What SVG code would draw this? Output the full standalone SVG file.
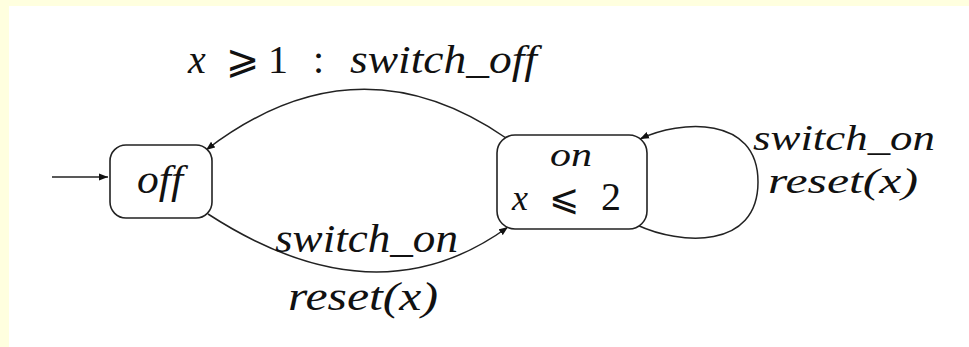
<svg xmlns="http://www.w3.org/2000/svg" width="969" height="347" viewBox="0 0 969 347">
<style>
.node rect{fill:#fff;stroke:#222;stroke-width:1.6}
.it{font-family:'Liberation Serif','Times New Roman','DejaVu Serif','Noto Serif',serif;font-style:italic;font-size:40px;fill:#111}
.rm{font-family:'Liberation Serif','Times New Roman','DejaVu Serif','Noto Serif',serif;font-style:normal;font-size:40px;fill:#111}
.sym{font-family:'DejaVu Sans','DejaVu Serif',sans-serif;font-style:normal;font-size:40px;fill:#111}
.sm{font-size:36px}
.xs{font-size:34px}
.edge{fill:none;stroke:#222;stroke-width:1.5}
</style>
<defs>
<marker id="ah" markerWidth="10" markerHeight="8" refX="9" refY="4" orient="auto" markerUnits="userSpaceOnUse">
<path d="M0,0.5 L9,4 L0,7.5 Z" fill="#111"/>
</marker>
</defs>
<rect x="0" y="0" width="969" height="347" fill="#FFFFDF"/>
<rect x="9" y="6" width="960" height="341" fill="#fff"/>
<g id="connectors">
<path class="edge" d="M52,177 L108,177" marker-end="url(#ah)"/>
<path class="edge" d="M506,138 Q356,35 206,150" marker-end="url(#ah)"/>
<path class="edge" d="M208,214 Q376,323 508,227" marker-end="url(#ah)"/>
<path class="edge" d="M637,225 C680,245 758,250 758,182 C758,115 680,120 640,139" marker-end="url(#ah)"/>
</g>
<g id="node-off" class="node">
<rect x="110" y="145" width="102" height="73" rx="16" ry="16"/>
<text class="it" x="137" y="193" textLength="46" lengthAdjust="spacingAndGlyphs">off</text>
</g>
<g id="node-on" class="node">
<rect x="497" y="135" width="150" height="94" rx="18" ry="18"/>
<text class="it xs" x="550" y="166" textLength="42" lengthAdjust="spacingAndGlyphs">on</text>
<text x="512" y="210" class="rm sm"><tspan class="it sm">x</tspan><tspan class="sym sm" x="549">⩽</tspan><tspan class="rm" x="601">2</tspan></text>
</g>
<g id="labels">
<text x="188" y="73" class="rm"><tspan class="it">x</tspan><tspan class="sym" x="226">⩾</tspan><tspan class="rm" x="268">1</tspan><tspan class="rm" x="313">:</tspan><tspan class="it" x="350" textLength="187" lengthAdjust="spacingAndGlyphs">switch_off</tspan></text>
<text class="it" x="275" y="252" textLength="183" lengthAdjust="spacingAndGlyphs">switch_on</text>
<text class="it" x="288" y="310" textLength="150" lengthAdjust="spacingAndGlyphs">reset(x)</text>
<text class="it sm" x="753" y="150" textLength="182" lengthAdjust="spacingAndGlyphs">switch_on</text>
<text class="it sm" x="768" y="193" textLength="150" lengthAdjust="spacingAndGlyphs">reset(x)</text>
</g>
</svg>
